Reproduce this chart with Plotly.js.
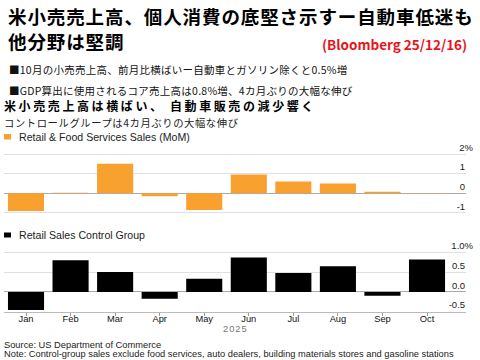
<!DOCTYPE html>
<html><head><meta charset="utf-8">
<script src="https://cdn.plot.ly/plotly-3.0.1.min.js"></script>
<style>
body{margin:0;background:#fff}#c{width:480px;height:360px}
.annotation[data-index="0"] text,.annotation[data-index="1"] text{letter-spacing:0.9px}
.annotation[data-index="3"] text,.annotation[data-index="4"] text{letter-spacing:0.25px}
.annotation[data-index="5"] text{letter-spacing:2.6px}
.annotation[data-index="6"] text{letter-spacing:0.6px}
.annotation[data-index="11"] text{letter-spacing:1px}
</style>
</head><body><div id="c"></div>
<script>
const months = ["Jan","Feb","Mar","Apr","May","Jun","Jul","Aug","Sep","Oct"];
const retailSales = [-0.9, 0.02, 1.5, -0.15, -0.85, 0.95, 0.6, 0.5, 0.08, -0.02];
const controlGroup = [-0.46, 0.8, 0.5, -0.17, 0.33, 0.87, 0.48, 0.65, -0.1, 0.82];
const topTickVals = [-1, 0, 1, 2];
const topTickText = ["-1\u00a0\u00a0\u00a0", "0\u00a0\u00a0\u00a0", "1\u00a0\u00a0\u00a0", "2%"];
const botTickVals = [-0.5, 0, 0.5, 1.0];
const botTickText = ["-0.5\u00a0\u00a0\u00a0", "0.0\u00a0\u00a0\u00a0", "0.5\u00a0\u00a0\u00a0", "1.0%"];
const yearLabel = "2025";
const titleLine1 = "米小売売上高、個人消費の底堅さ示すー自動車低迷も";
const titleLine2 = "他分野は堅調";
const sourceTag = "(Bloomberg 25/12/16)";
const bullet1 = "■10月の小売売上高、前月比横ばいー自動車とガソリン除くと0.5%増";
const bullet2 = "■GDP算出に使用されるコア売上高は0.8%増、4カ月ぶりの大幅な伸び";
const headline = "米小売売上高は横ばい、 自動車販売の減少響く";
const subhead = "コントロールグループは4カ月ぶりの大幅な伸び";
const legend1 = "Retail & Food Services Sales (MoM)";
const legend2 = "Retail Sales Control Group";
const sourceText = "Source: US Department of Commerce";
const noteText = "Note: Control-group sales exclude food services, auto dealers, building materials stores and gasoline stations";

const W = 480, H = 360;
const px = v => v / W, py = v => 1 - v / H;
const CJK = "'Noto Sans CJK JP', sans-serif";
const LAT = "'Liberation Sans', Arial, sans-serif";

const traces = [
  {type:'bar', x: months.map((m,i)=>i), y: retailSales, marker:{color:'#f9a12e'}, xaxis:'x', yaxis:'y', hoverinfo:'skip'},
  {type:'bar', x: months.map((m,i)=>i), y: controlGroup, marker:{color:'#000'}, xaxis:'x', yaxis:'y2', hoverinfo:'skip'}
];

function ann(text, x, y, font, opts) {
  return Object.assign({text, x: px(x), y: py(y), xref:'paper', yref:'paper', xanchor:'left', yanchor:'middle', align:'left', showarrow:false, font}, opts || {});
}

const annotations = [
  ann(titleLine1, 6, 16, {family:CJK,size:18.5,color:'#000',weight:700}),
  ann(titleLine2, 6, 41, {family:CJK,size:18.5,color:'#000',weight:700}),
  ann(sourceTag, 469, 44, {family:CJK,size:13.5,color:'#e8141c',weight:700}, {xanchor:'right', align:'right'}),
  ann(bullet1, 7, 70, {family:CJK,size:10.5,color:'#111'}),
  ann(bullet2, 7, 90, {family:CJK,size:10.5,color:'#111'}),
  ann(headline, 2, 105, {family:CJK,size:12,color:'#000',weight:700}),
  ann(subhead, 2, 122, {family:CJK,size:10.3,color:'#222'}),
  ann(legend1, 17, 137, {family:LAT,size:10.6,color:'#222'}),
  ann(legend2, 17, 235, {family:LAT,size:10.6,color:'#222'}),
  ann(sourceText, 2, 344.5, {family:LAT,size:9.3,color:'#222'}),
  ann(noteText, 2, 354, {family:LAT,size:9.3,color:'#222'}),
  ann(yearLabel, 235, 328.5, {family:LAT,size:9.3,color:'#777'}, {xanchor:'center', align:'center'})
];

const shapes = [
  {type:'rect', xref:'paper', yref:'paper', x0:px(4), x1:px(11), y0:py(139.5), y1:py(134), fillcolor:'#f9a12e', line:{width:0}},
  {type:'rect', xref:'paper', yref:'paper', x0:px(4), x1:px(11), y0:py(237.5), y1:py(232.5), fillcolor:'#000', line:{width:0}}
];

const yCommon = {side:'right', tickmode:'array', ticklabelposition:'inside top', ticklabelstandoff:-10, ticklabeloverflow:'allow', ticks:'',
  showgrid:true, gridcolor:'#e0e0e0', gridwidth:1, zeroline:true, zerolinecolor:'#aaa', zerolinewidth:1,
  tickfont:{family:LAT, size:9.5, color:'#222'}};

const layout = {
  width: W, height: H,
  margin:{l:0, r:0, t:0, b:0},
  paper_bgcolor:'#fff', plot_bgcolor:'rgba(0,0,0,0)',
  showlegend:false, bargap:0.19,
  font:{family:LAT},
  xaxis:{domain:[px(4), px(466)], anchor:'y2', range:[-0.494, 9.875], tickmode:'array', tickvals: months.map((m,i)=>i), ticktext: months,
    ticks:'outside', ticklen:3, tickcolor:'#999', showline:true, linecolor:'#bbb', linewidth:1, showgrid:false, zeroline:false,
    ticklabelstandoff:-5,
    tickfont:{family:LAT, size:9.3, color:'#111'}},
  yaxis:Object.assign({domain:[py(214.8), py(144.2)], range:[-1.1, 2.5], tickvals: topTickVals, ticktext: topTickText}, yCommon),
  yaxis2:Object.assign({domain:[py(311.7), py(242.4)], range:[-0.5, 1.25], tickvals: botTickVals, ticktext: botTickText}, yCommon),
  annotations, shapes
};
Plotly.newPlot('c', traces, layout, {staticPlot:true, displayModeBar:false});
</script></body></html>
